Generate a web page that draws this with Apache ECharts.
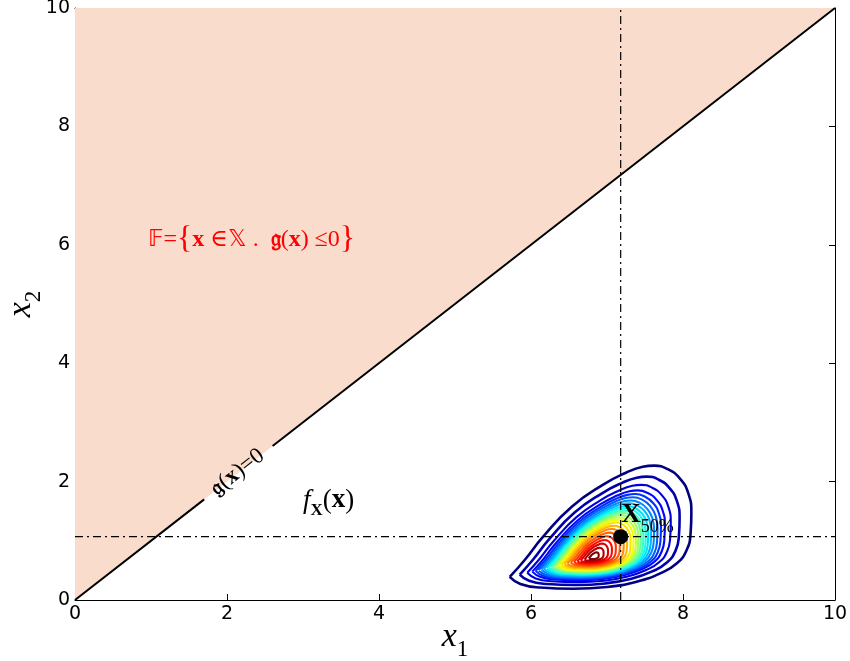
<!DOCTYPE html>
<html><head><meta charset="utf-8">
<script src="https://cdn.jsdelivr.net/npm/echarts/dist/echarts.min.js"></script>
<style>html,body{margin:0;padding:0;background:#fff}#c{width:850px;height:661px}</style>
</head><body><div id="c"></div>
<script>
// ---- data ----
const xTicks = [0, 2, 4, 6, 8, 10];
const yTicks = [0, 2, 4, 6, 8, 10];
const boundarySegments = [[0, 1.7], [2.6, 10]];      // x1 ranges of the line g(x)=0 (x2 = x1), gap for label
const medianPoint = [7.18, 1.07];                     // X_50%
const modePoint = [6.82, 0.72];                       // peak of f_X
const outerContour = [
  [5.72,0.39],[5.92,0.68],[6.16,1.07],[6.54,1.58],[6.95,1.95],[7.25,2.15],[7.47,2.25],
  [7.62,2.27],[7.80,2.21],[7.96,2.05],[8.07,1.80],[8.11,1.47],[8.10,1.13],[8.05,0.85],
  [7.92,0.62],[7.70,0.45],[7.39,0.31],[7.00,0.22],[6.56,0.19],[6.12,0.21],[5.86,0.27],[5.72,0.39]
];
// relative size of each density contour (outermost -> innermost), read along rays from the mode
const contourScales = [1.0, 0.88, 0.79, 0.73, 0.69, 0.655, 0.62, 0.59, 0.56, 0.535, 0.51, 0.485,
  0.46, 0.435, 0.41, 0.38, 0.345, 0.31, 0.27, 0.23, 0.19, 0.15, 0.105, 0.055];
const failureLabelPos = [0.96, 6.08];
const limitLabelPos = [2.14, 2.16];
const densityLabelPos = [3.0, 1.64];

// ---- helpers ----
function jet(t) {
  const c = v => Math.round(255 * Math.max(0, Math.min(1, v)));
  return `rgb(${c(1.5 - Math.abs(4*t - 3))},${c(1.5 - Math.abs(4*t - 2))},${c(1.5 - Math.abs(4*t - 1))})`;
}
const serif = 'Liberation Serif, DejaVu Serif, serif';
const series = [];

series.push({
  type: 'line', data: [[0, 0], [10, 10]], symbol: 'none', silent: true,
  lineStyle: { width: 0, opacity: 0 },
  areaStyle: { color: '#f9dccc', origin: 'end', opacity: 1 }, z: 1
});
boundarySegments.forEach(([a, b]) => series.push({
  type: 'line', data: [[a, a], [b, b]], symbol: 'none', silent: true,
  lineStyle: { color: '#000', width: 2 }, z: 4
}));
contourScales.forEach((s, i) => {
  const t = i / (contourScales.length - 1);
  series.push({
    type: 'line', symbol: 'none', smooth: 0.5, silent: true, z: 3,
    data: outerContour.map(([x, y]) => [modePoint[0] + s * (x - modePoint[0]), modePoint[1] + s * (y - modePoint[1])]),
    lineStyle: { color: jet(t), width: i < 2 ? 2.6 : 2.1 }
  });
});
const dashDot = [8, 4, 2, 4];
series.push({
  type: 'line', symbol: 'none', silent: true, z: 5,
  data: [[medianPoint[0], 0], [medianPoint[0], 10]],
  lineStyle: { color: '#000', width: 1.2, type: dashDot }
});
series.push({
  type: 'line', symbol: 'none', silent: true, z: 5,
  data: [[0, medianPoint[1]], [10, medianPoint[1]]],
  lineStyle: { color: '#000', width: 1.2, type: dashDot }
});
series.push({
  type: 'scatter', data: [medianPoint], symbolSize: 15, itemStyle: { color: '#000', opacity: 1 }, z: 6,
  label: {
    show: true, position: 'right', offset: [-12, -18],
    formatter: '{b|X}{s|50%}',
    rich: {
      b: { fontFamily: serif, fontWeight: 'bold', fontSize: 27, color: '#000', padding: [0, 0, 8, 0], verticalAlign: 'bottom' },
      s: { fontFamily: serif, fontSize: 18, color: '#000', verticalAlign: 'bottom' }
    }
  }
});
series.push({
  type: 'scatter', data: [failureLabelPos], symbolSize: 0, z: 7, silent: true,
  itemStyle: { opacity: 1 },
  label: {
    show: true, position: 'right', distance: 0,
    formatter: '{n|𝔽}{p|=}{br|{}{b|x}{p| ∈}{n|𝕏}{p| .  }{g|𝔤}{p|(}{b|x}{p|)}{p| ≤0}}',
    fontFamily: serif, fontSize: 32, color: '#ff0000',
    rich: {
      n: { fontFamily: 'DejaVu Sans, serif', fontSize: 23, color: '#ff0000' },
      p: { fontFamily: serif, fontSize: 24, color: '#ff0000' },
      b: { fontFamily: serif, fontSize: 24, fontWeight: 'bold', color: '#ff0000' },
      g: { fontFamily: 'DejaVu Sans, serif', fontSize: 23, fontWeight: 'bold', color: '#ff0000' },
      br: { fontFamily: serif, fontSize: 32, color: '#ff0000' }
    }
  }
});
series.push({
  type: 'scatter', data: [limitLabelPos], symbolSize: 0, z: 7, silent: true,
  itemStyle: { opacity: 1 },
  label: {
    show: true, position: 'inside', rotate: 38,
    formatter: '{g|𝔤}{p|(}{b|x}{p|)=0}',
    rich: {
      g: { fontFamily: 'DejaVu Sans, serif', fontSize: 22, fontWeight: 'bold', color: '#000' },
      p: { fontFamily: serif, fontSize: 23, color: '#000' },
      b: { fontFamily: serif, fontSize: 23, fontWeight: 'bold', color: '#000' }
    }
  }
});
series.push({
  type: 'scatter', data: [densityLabelPos], symbolSize: 0, z: 7, silent: true,
  itemStyle: { opacity: 1 },
  label: {
    show: true, position: 'right', distance: 0,
    formatter: '{f|f}{s|X}{p|(}{b|x}{p|)}',
    rich: {
      f: { fontFamily: serif, fontStyle: 'italic', fontSize: 27, color: '#000', padding: [0, 0, 5, 0], verticalAlign: 'bottom' },
      s: { fontFamily: serif, fontWeight: 'bold', fontSize: 17, color: '#000', verticalAlign: 'bottom' },
      p: { fontFamily: serif, fontSize: 27, color: '#000', padding: [0, 0, 5, 0], verticalAlign: 'bottom' },
      b: { fontFamily: serif, fontWeight: 'bold', fontSize: 27, color: '#000', padding: [0, 0, 5, 0], verticalAlign: 'bottom' }
    }
  }
});

const tickFont = { fontFamily: 'DejaVu Sans', fontSize: 19, color: '#000' };
function axis(pos, show, ticks, nameRich) {
  return {
    type: 'value', min: ticks[0], max: ticks[ticks.length - 1], interval: ticks[1] - ticks[0],
    position: pos,
    axisLine: { show: true, onZero: false, lineStyle: { color: '#000', width: 1 } },
    axisTick: { show: true, inside: true, length: 6, lineStyle: { color: '#000', width: 1 } },
    axisLabel: Object.assign({ show: show, margin: 5 }, tickFont),
    splitLine: { show: false },
    nameMoveOverlap: false,
    ...(nameRich || {})
  };
}
const nameRich = {
  i: { fontFamily: serif, fontStyle: 'italic', fontSize: 34, color: '#000', padding: [0, 0, 7, 0], verticalAlign: 'bottom' },
  s: { fontFamily: serif, fontSize: 23, color: '#000', verticalAlign: 'bottom' }
};
const chart = echarts.init(document.getElementById('c'), null, { renderer: 'canvas' });
chart.setOption({
  animation: false,
  backgroundColor: '#fff',
  grid: { left: 75, right: 15, top: 8, bottom: 61, containLabel: false, outerBoundsMode: 'none' },
  xAxis: [
    axis('bottom', true, xTicks, {
      name: '{i|x}{s|1}', nameLocation: 'middle', nameGap: 20,
      nameTextStyle: { rich: nameRich }
    }),
    axis('top', false, xTicks)
  ],
  yAxis: [
    axis('left', true, yTicks, {
      name: '{i|x}{s|2}', nameLocation: 'middle', nameGap: 30, nameRotate: 90,
      nameTextStyle: { rich: nameRich }
    }),
    axis('right', false, yTicks)
  ],
  series: series
});
</script></body></html>
